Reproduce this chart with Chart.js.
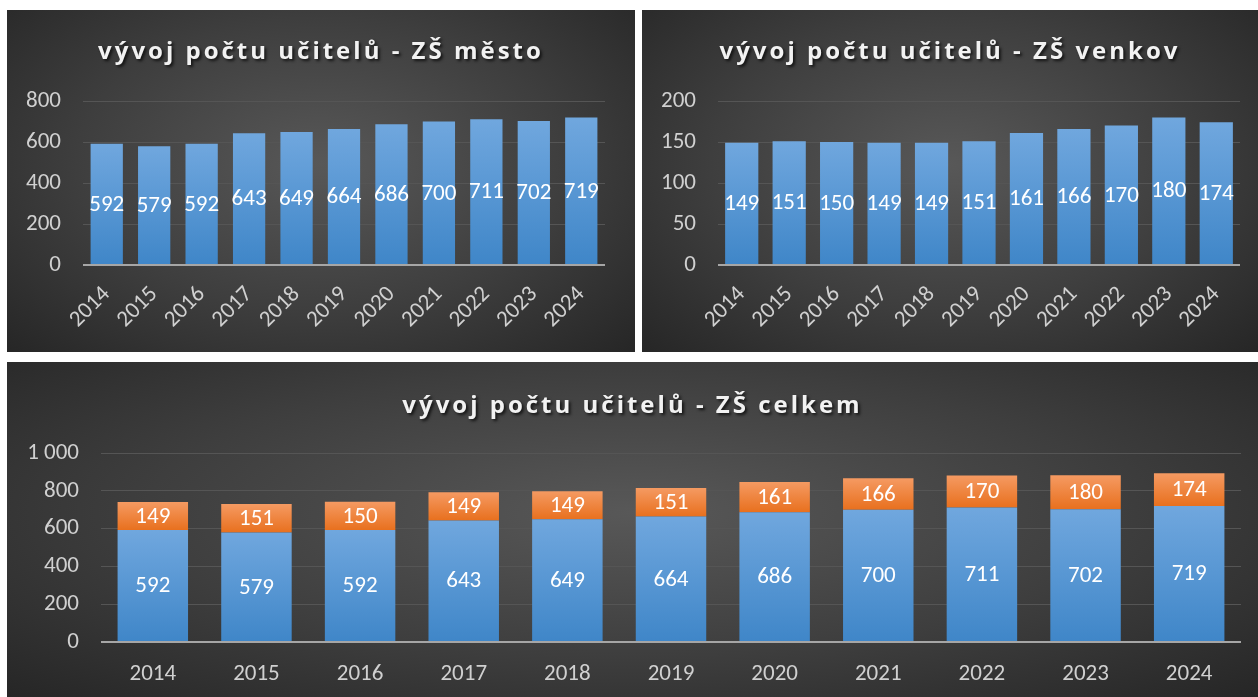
<!DOCTYPE html>
<html>
<head>
<meta charset="utf-8">
<script src="https://cdn.jsdelivr.net/npm/chart.js@4.4.0/dist/chart.umd.min.js"></script>
<style>
    body { margin: 0; background: #ffffff; width: 1258px; height: 697px; overflow: hidden; }
    .panel {
        position: absolute;
        background: radial-gradient(ellipse farthest-corner at 50% 45%, #585858 0%, #3e3e3e 55%, #262626 100%);
    }
    .panel canvas { position: absolute; left: 0; top: 0; }
    .title {
        position: absolute; left: 0; right: 0; text-align: center;
        color: #f2f2f2; font: bold 24px "Open Sans", sans-serif; letter-spacing: 3px;
        text-shadow: 2px 2px 3px rgba(0, 0, 0, 0.7);
        z-index: 2;
    }
</style>
</head>
<body>
<div class="panel" style="left:7px;top:10px;width:628px;height:342px">
    <canvas id="mesto"></canvas>
    <div class="title" style="top:23px">vývoj počtu učitelů - ZŠ město</div>
</div>
<div class="panel" style="left:642px;top:10px;width:616px;height:342px">
    <canvas id="venkov"></canvas>
    <div class="title" style="top:23px">vývoj počtu učitelů - ZŠ venkov</div>
</div>
<div class="panel" style="left:7px;top:362px;width:1251px;height:335px">
    <canvas id="celkem"></canvas>
    <div class="title" style="top:25px">vývoj počtu učitelů - ZŠ celkem</div>
</div>
<script>
// Data.
const years = ['2014', '2015', '2016', '2017', '2018', '2019', '2020', '2021', '2022', '2023', '2024'];
const mesto = [592, 579, 592, 643, 649, 664, 686, 700, 711, 702, 719];
const venkov = [149, 151, 150, 149, 149, 151, 161, 166, 170, 180, 174];

const labelFont = 'Carlito, "Liberation Sans Narrow", "DejaVu Sans Condensed", sans-serif';


/**
 * Vertical gradient for one bar, from its top to its base (stacked bars aware).
 */
function barFill(topColor, bottomColor) {
    return (c) => {
        const chart = c.chart;
        const yScale = chart.scales.y;
        if (!chart.chartArea || !yScale) return bottomColor;
        let base = 0;
        for (let i = 0; i < c.datasetIndex; i++) base += chart.data.datasets[i].data[c.dataIndex];
        const value = chart.data.datasets[c.datasetIndex].data[c.dataIndex];
        const y0 = yScale.getPixelForValue(base + value);
        const y1 = yScale.getPixelForValue(base);
        if (!isFinite(y0) || !isFinite(y1) || y0 === y1) return bottomColor;
        const g = chart.ctx.createLinearGradient(0, y0, 0, y1);
        g.addColorStop(0, topColor);
        g.addColorStop(1, bottomColor);
        return g;
    };
}

// Draws each value in the middle of its bar.
const valueLabels = {
    id: 'valueLabels',
    afterDatasetsDraw(chart, args, opts) {
        const ctx = chart.ctx;
        ctx.save();
        ctx.font = opts.size + 'px ' + labelFont;
        ctx.fillStyle = '#ffffff';
        ctx.textAlign = 'center';
        ctx.textBaseline = 'middle';
        chart.data.datasets.forEach((ds, i) => {
            chart.getDatasetMeta(i).data.forEach((bar, j) => {
                const { x, y, base } = bar.getProps(['x', 'y', 'base'], true);
                ctx.fillText(ds.data[j], x, (y + base) / 2 + 1);
            });
        });
        ctx.restore();
    }
};


function createBarChart(id, datasets, yMax, yStep, box, rotated, labelSize) {
    new Chart(document.getElementById(id), {
        type: 'bar',
        data: { labels: years, datasets },
        plugins: [valueLabels],
        options: {
            responsive: true,
            maintainAspectRatio: false,
            animation: false,
            layout: { padding: { left: 0, top: box.top, right: box.right, bottom: 0 } },
            plugins: {
                legend: { display: false },
                tooltip: { enabled: false },
                valueLabels: { size: labelSize }
            },
            scales: {
                x: {
                    stacked: true,
                    grid: { display: false },
                    border: { display: false },
                    afterFit: (s) => { s.height = box.bottom; },
                    ticks: {
                        color: '#d0d0d0',
                        font: { family: labelFont, size: 23 },
                        maxRotation: rotated ? 45 : 0,
                        minRotation: rotated ? 45 : 0,
                        padding: rotated ? 8 : 10
                    }
                },
                y: {
                    stacked: true,
                    min: 0,
                    max: yMax,
                    border: { display: false },
                    afterFit: (s) => { s.width = box.left; },
                    grid: {
                        drawTicks: false,
                        color: (c) => c.tick && c.tick.value === 0 ? '#a6a6a6' : '#555555',
                        lineWidth: (c) => c.tick && c.tick.value === 0 ? 2 : 1
                    },
                    ticks: {
                        stepSize: yStep,
                        padding: 22,
                        color: '#d0d0d0',
                        font: { family: labelFont, size: 23 },
                        callback: (v) => String(v).replace(/\B(?=(\d{3})+(?!\d))/g, ' ')
                    }
                }
            }
        }
    });
}


const blueTop = '#70a7de', blueBottom = '#3f86c8';
const orangeTop = '#f59a62', orangeBottom = '#e8701e';

createBarChart('mesto', [{
    data: mesto, categoryPercentage: 1, barPercentage: 0.68,
    backgroundColor: barFill(blueTop, blueBottom)
}], 800, 200, { left: 76, top: 91, right: 30, bottom: 87 }, true, 23);

createBarChart('venkov', [{
    data: venkov, categoryPercentage: 1, barPercentage: 0.7,
    backgroundColor: barFill(blueTop, blueBottom)
}], 200, 50, { left: 76, top: 91, right: 18, bottom: 87 }, true, 23);

createBarChart('celkem', [{
    data: mesto, categoryPercentage: 1, barPercentage: 0.68,
    backgroundColor: barFill(blueTop, blueBottom)
}, {
    data: venkov, categoryPercentage: 1, barPercentage: 0.68,
    backgroundColor: barFill(orangeTop, orangeBottom)
}], 1000, 200, { left: 94, top: 91, right: 17, bottom: 55 }, false, 23);
</script>
</body>
</html>
